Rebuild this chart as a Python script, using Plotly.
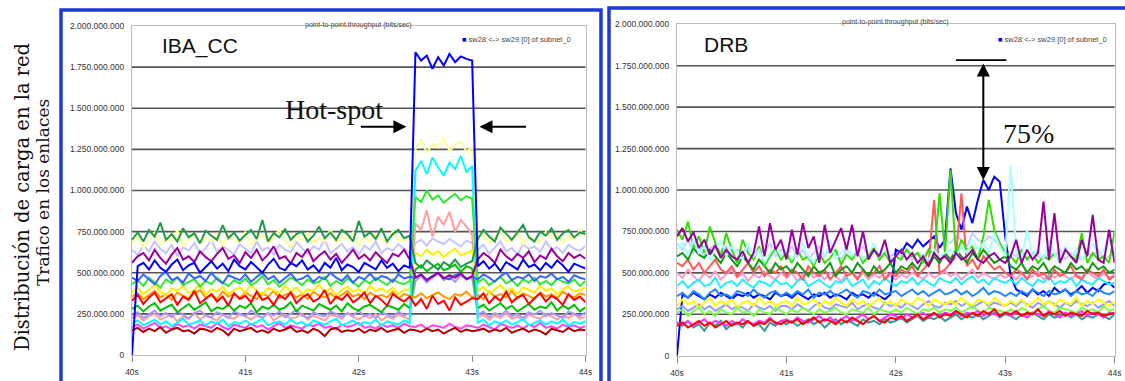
import plotly.graph_objects as go

W, H = 1125, 381

# time samples (seconds)
T = [round(40 + 0.05 * i, 2) for i in range(81)]

X_TICKS = [40, 41, 42, 43, 44]
X_TICK_TEXT = ["40s", "41s", "42s", "43s", "44s"]
Y_TICKS = [0, 250, 500, 750, 1000, 1250, 1500, 1750, 2000]
Y_TICK_TEXT = ["0", "250.000.000", "500.000.000", "750.000.000", "1.000.000.000",
               "1.250.000.000", "1.500.000.000", "1.750.000.000", "2.000.000.000"]

TITLE = "point-to-point.throughput (bits/sec)"
LEGEND_NAME = "sw28 &lt;-&gt; sw29 [0] of subnet_0"

# ---------------- IBA_CC (left) : throughput in Mbit/s ----------------
L_DKGREEN = [700,745,690,760,720,805,700,735,690,770, 715,740,680,755,725,700,790,710,745,695,
             730,760,705,820,690,740,715,765,700,735, 750,690,725,780,710,745,700,760,735,690,
             815,720,745,705,770,690,735,760,710,725,
             560,530,575,545,520,565,540,580,535,555,570,
             705,760,720,690,775,735,700,745,790,715, 690,750,725,770,700,740,760,715,745,735]
L_LTYELLOW = [680,720,650,700,745,670,710,690,760,665, 705,730,675,715,690,740,660,725,700,685,
              750,670,705,735,680,715,760,690,655,720, 700,740,675,710,690,765,680,720,700,745,
              670,715,690,730,705,680,755,700,690,720,
              1250,1310,1230,1280,1260,1320,1240,1275,1300,1235,1265,
              700,735,680,715,760,690,705,745,670,720, 700,690,750,710,735,680,725,700,760,715]
L_LAV = [640,610,665,630,690,645,620,670,600,655, 635,680,615,650,700,625,660,640,610,675,
         645,620,690,635,655,610,670,640,625,685, 650,615,660,640,700,620,645,675,630,655,
         610,665,640,690,620,650,635,675,645,620,
         680,700,665,710,690,675,705,685,660,695,680,
         640,670,615,655,690,630,650,610,675,645, 660,625,690,640,655,620,670,645,635,660]
L_PURPLE = [560,600,620,575,640,590,555,610,650,580, 600,565,630,595,570,615,650,585,605,560,
            625,590,640,575,610,660,585,600,555,620, 595,645,570,605,630,580,615,560,600,640,
            585,610,575,625,590,560,615,600,640,580,
            470,490,455,480,500,465,485,470,495,460,480,
            580,620,595,560,640,600,575,615,590,630, 565,605,585,645,600,570,620,590,610,585]
L_SW28 = [0,540,560,520,575,530,505,550,580,515, 545,560,500,535,570,525,555,510,580,540,
          520,565,535,500,550,585,530,515,560,540, 575,520,545,505,560,530,590,515,550,535,
          505,560,540,520,575,530,555,510,545,530,
          1840,1790,1820,1740,1810,1760,1830,1780,1815,1800,1790,
          540,570,525,555,510,565,540,520,580,535, 550,515,560,530,575,545,505,555,540,525]
L_ROYAL = [470,450,490,460,430,480,505,455,470,440, 495,465,480,450,500,460,435,485,470,455,
           490,445,475,500,460,480,440,470,495,455, 465,485,445,475,460,500,470,450,485,440,
           475,460,495,455,480,470,445,490,465,475,
           470,490,455,480,500,470,460,485,495,465,475,
           460,490,470,445,480,500,455,475,465,490, 450,480,470,495,460,475,445,485,470,460]
L_LIME = [430,455,420,470,440,410,460,435,475,425, 445,460,415,450,430,470,440,420,455,435,
          465,425,445,480,430,455,415,440,470,450, 425,460,435,445,475,420,450,430,465,440,
          415,455,435,470,445,425,460,440,430,450,
          960,930,1000,945,970,925,955,980,940,965,950,
          440,465,425,450,475,435,455,420,460,440, 470,430,450,425,465,445,435,460,420,450]
L_YELLOW = [380,410,370,400,425,385,360,405,390,420, 375,395,430,365,400,385,415,370,395,410,
            380,425,390,365,405,395,375,420,385,410, 370,400,390,430,380,405,365,395,415,385,
            400,375,420,390,405,380,410,370,395,400,
            620,600,640,610,630,595,625,645,605,620,635,
            390,415,375,400,425,385,405,370,410,395, 380,420,390,405,370,400,415,385,395,410]
L_ORANGE = [355,375,340,365,390,350,370,335,380,360, 345,375,395,350,365,340,385,355,370,345,
            380,360,340,375,355,390,345,365,380,350, 370,340,385,360,350,375,345,365,390,355,
            370,340,380,355,365,350,385,345,370,360,
            350,375,345,365,380,355,340,370,360,385,350,
            365,340,385,355,370,350,390,345,375,360, 340,380,355,370,345,385,360,350,375,365]
L_RED = [330,365,310,350,380,320,345,370,305,355, 335,390,315,345,370,325,355,300,375,340,
         360,320,385,335,350,305,365,340,380,315, 350,370,325,345,395,310,355,335,370,320,
         345,380,315,360,335,300,370,345,325,355,
         300,340,280,360,310,330,270,350,305,325,345,
         340,375,315,355,330,385,320,350,365,310, 345,375,325,360,340,305,370,335,355,320]
L_GREEN = [280,300,265,295,315,270,290,305,260,285, 310,275,295,320,265,290,280,305,270,300,
           285,315,260,295,280,305,275,290,320,265, 300,285,270,310,290,275,300,265,315,285,
           270,295,305,280,260,300,290,275,310,285,
           520,545,510,535,555,515,530,550,505,540,525,
           285,305,270,295,315,280,300,265,290,310, 275,295,285,320,270,300,280,305,265,290]
L_LTPURPLE = [240,260,225,250,270,235,255,230,265,245, 220,255,270,240,230,260,245,225,265,250,
              235,270,245,225,255,240,265,230,250,275, 240,225,260,245,235,265,250,230,255,240,
              270,235,250,225,260,245,230,265,240,255,
              450,480,440,470,495,455,475,445,485,460,470,
              245,265,230,255,240,270,235,250,225,260, 245,270,235,255,240,225,265,250,235,260]
L_SALMON = [225,240,210,235,250,215,230,245,205,235, 220,255,215,240,225,210,245,230,220,250,
            235,215,240,225,255,210,235,245,220,230, 250,215,240,225,210,245,235,220,255,230,
            215,240,225,250,210,235,220,245,230,215,
            800,760,880,720,840,790,870,750,820,780,730,
            230,245,215,240,225,255,220,235,210,245, 230,220,250,235,215,240,225,250,220,235]
L_CYAN = [190,210,180,200,215,185,205,175,200,220, 185,195,210,180,205,190,215,175,200,190,
          210,185,200,220,180,195,205,185,215,190, 200,175,210,195,185,205,220,180,195,210,
          185,200,190,215,180,205,195,185,210,195,
          1120,1180,1100,1200,1140,1090,1170,1130,1210,1110,1150,
          195,215,180,205,190,210,185,200,220,180, 195,210,185,205,190,215,180,200,190,205]
L_MAGENTA = [170,185,160,180,195,165,175,155,190,170, 180,160,185,175,165,195,170,155,185,175,
             165,190,170,180,155,175,195,165,180,170, 160,185,175,190,165,175,155,185,170,180,
             195,165,175,160,185,170,180,165,190,175,
             170,185,160,180,175,165,190,170,160,180,175,
             165,185,170,155,190,175,165,180,160,185, 170,195,165,175,160,185,170,180,165,175]
L_DKRED = [150,165,140,160,145,170,135,155,165,145, 150,130,160,155,140,165,150,120,160,145,
           155,165,140,150,135,160,145,155,170,140, 150,135,160,145,115,155,165,140,150,145,
           160,135,155,145,165,140,150,160,135,155,
           150,140,160,145,155,130,150,165,140,155,145,
           150,160,140,155,145,165,135,150,160,140, 155,145,125,160,150,140,165,145,155,150]

# ---------------- DRB (right) ----------------
R_PURPLE = [720,770,690,745,650,700,610,665,590,640, 600,580,630,560,620,780,600,800,640,700,
            580,760,610,800,650,720,560,790,620,700, 770,640,790,600,750,580,640,600,700,560,
            600,640,580,620,560,600,540,620,580,600,
            560,620,580,600,640,580,560,600,620,580,560,
            600,700,560,640,580,620,930,580,860,560, 640,600,560,700,600,850,580,560,760,560]
R_GREEN = [760,700,810,650,720,620,780,680,600,740, 640,560,700,620,580,660,540,600,650,580,
           620,560,640,580,600,540,620,560,590,640, 550,610,580,640,560,600,650,580,620,560,
           600,580,640,600,620,560,640,600,980,620,
           1120,600,700,640,660,580,720,940,760,680,620,
           600,560,640,580,620,560,600,580,620,560, 650,600,580,740,560,620,580,600,560,750]
R_DKGREEN = [600,620,580,650,610,590,640,600,560,620, 580,540,600,560,520,580,540,500,560,520,
             540,500,560,520,480,540,500,520,560,480, 520,540,500,560,520,480,540,500,520,560,
             500,540,520,560,520,580,540,600,560,620,
             580,640,600,560,620,580,640,600,560,580,600,
             540,520,560,500,540,520,560,500,540,520, 500,560,520,540,500,560,520,540,500,520]
R_SALMON = [560,540,580,520,560,500,540,580,520,500, 540,480,520,560,500,540,480,520,500,540,
            480,520,500,460,540,500,480,520,460,500, 540,480,500,460,520,480,500,540,460,500,
            480,520,500,540,480,520,560,940,500,520,
            560,600,980,540,580,520,600,560,520,540,500,
            480,520,500,460,520,480,500,460,520,480, 500,540,480,460,520,500,480,520,460,480]
R_LTCYAN = [640,680,600,700,620,660,580,640,700,600, 660,620,580,680,600,640,560,620,660,600,
            640,580,620,680,600,560,640,600,700,580, 620,660,600,640,580,620,680,600,640,580,
            600,640,580,620,560,600,580,640,600,620,
            640,600,660,620,700,640,680,620,740,660,600,
            1150,620,580,760,600,640,580,700,620,560, 660,600,640,580,620,680,600,640,700,620]
R_LAV = [680,640,700,620,660,600,640,680,620,660, 600,640,620,660,600,640,620,680,600,640,
         620,660,600,640,580,620,660,600,640,620, 580,640,600,620,660,600,640,580,620,600,
         620,600,640,580,620,600,640,620,660,700,
         680,720,700,660,740,700,680,720,700,660,640,
         620,600,640,580,620,600,580,620,600,640, 580,620,600,580,620,600,640,580,600,620]
R_PINK = [500,470,520,480,450,500,470,510,460,490, 520,470,500,450,490,470,510,480,460,500,
          470,500,450,490,520,470,490,460,500,480, 450,490,510,470,500,460,490,470,510,480,
          460,490,470,500,480,460,500,470,490,510,
          480,500,460,490,520,470,500,480,460,490,470,
          490,460,500,470,480,510,460,490,470,500, 480,460,490,470,510,480,460,500,470,490]
R_CYAN = [420,450,410,440,460,420,430,470,410,440, 450,420,460,430,410,450,440,420,460,430,
          440,410,450,470,420,440,460,430,410,450, 440,470,420,440,460,410,450,430,470,440,
          420,450,440,470,430,460,440,420,470,450,
          440,470,430,460,480,440,460,430,470,450,440,
          460,430,470,440,420,460,440,480,430,450, 440,470,420,460,440,430,470,450,430,440]
R_DODGER = [360,380,350,390,370,340,380,400,360,370, 350,390,380,360,400,370,350,380,390,360,
            380,360,390,370,400,350,380,370,390,360, 380,400,370,350,390,380,360,400,370,380,
            390,360,380,400,370,390,360,380,400,370,
            380,400,370,390,360,380,410,370,390,380,360,
            380,360,390,370,400,380,360,390,370,380, 400,360,390,370,380,360,400,380,370,390]
R_YELLOW = [300,340,310,330,290,320,350,300,330,310, 340,290,320,330,300,350,310,330,300,320,
            330,300,350,310,320,340,300,330,310,350, 320,300,340,310,330,300,320,350,310,330,
            300,340,320,310,350,330,300,340,320,310,
            330,310,350,320,300,340,330,310,350,320,300,
            330,310,340,300,320,350,310,330,300,340, 320,310,350,300,330,310,340,320,300,330]
R_LIME = [260,280,240,270,290,250,270,240,280,260, 250,290,260,270,240,280,260,250,290,270,
          250,280,260,290,270,250,280,260,270,290, 260,250,280,270,260,290,250,280,270,260,
          280,260,290,270,250,280,270,290,260,280,
          270,290,260,280,300,270,260,290,280,270,260,
          280,260,290,270,250,280,300,270,260,290, 280,270,260,290,270,280,260,300,270,280]
R_LTPURPLE = [280,300,270,290,310,280,300,270,290,310, 280,300,290,270,310,290,280,300,270,300,
              300,280,310,290,270,300,320,290,280,310, 300,290,320,280,300,310,290,280,320,300,
              310,290,320,300,280,310,330,300,290,320,
              310,330,300,320,290,310,330,300,320,310,300,
              320,300,330,310,290,320,300,330,310,290, 320,300,330,310,300,320,290,310,330,300]
R_TEAL = [200,180,210,170,190,150,200,180,210,160, 190,200,170,210,180,190,150,200,180,210,
          190,210,180,200,220,190,210,170,200,220, 190,210,200,180,220,200,210,190,220,200,
          210,230,200,220,240,210,230,220,240,210,
          230,250,220,240,230,250,220,240,260,230,250,
          240,220,250,230,260,240,220,250,230,240, 260,230,250,220,240,230,250,240,220,250]
R_RED = [180,200,170,190,210,180,200,170,190,210, 180,200,190,210,180,200,190,220,200,190,
         210,200,220,190,210,230,200,220,210,190, 220,200,230,210,190,220,240,210,200,230,
         220,240,210,230,250,220,240,260,230,250,
         240,270,250,230,260,240,270,250,280,240,260,
         250,270,240,260,250,280,240,260,250,270, 240,260,250,240,270,250,260,240,250,260]
R_MAGENTA = [200,190,210,180,200,220,190,210,200,180, 210,190,220,200,190,210,200,230,190,210,
             220,200,230,210,200,220,240,210,230,200, 220,240,210,230,250,220,240,210,230,250,
             240,220,250,230,240,260,230,250,240,260,
             250,270,240,260,250,270,240,260,250,240,260,
             240,260,250,230,260,250,240,270,250,230, 260,240,250,270,240,260,250,230,260,250]
R_SW28 = [0,370,350,380,360,340,370,350,380,360, 340,370,360,380,350,370,360,340,380,360,
          370,350,380,360,340,370,360,380,350,370, 360,340,380,360,370,350,380,360,340,370,
          640,620,680,650,700,660,690,720,650,700,
          1130,860,760,900,800,940,1060,1000,1080,1050,720,
          480,400,380,360,400,370,390,360,410,380, 400,370,390,420,380,410,390,430,440,410]

LEFT_SERIES = [
    ("lavender", L_LAV, "#c4c4ff"),
    ("light yellow", L_LTYELLOW, "#ffff99"),
    ("salmon", L_SALMON, "#ff9e9e"),
    ("light purple", L_LTPURPLE, "#a898ff"),
    ("magenta", L_MAGENTA, "#ff44ff"),
    ("dark red", L_DKRED, "#b00000"),
    ("orange", L_ORANGE, "#ff9900"),
    ("yellow", L_YELLOW, "#ffee00"),
    ("green", L_GREEN, "#00c000"),
    ("cyan", L_CYAN, "#00ffff"),
    ("lime", L_LIME, "#33e633"),
    ("royal", L_ROYAL, "#3366ff"),
    ("purple", L_PURPLE, "#990099"),
    ("red", L_RED, "#ff0000"),
    ("dark green", L_DKGREEN, "#1f9a4a"),
    ("sw28", L_SW28, "#0000ff"),
]
RIGHT_SERIES = [
    ("teal", R_TEAL, "#339999"),
    ("lavender", R_LAV, "#ccccff"),
    ("pink", R_PINK, "#ff99cc"),
    ("sw28", R_SW28, "#0000ff"),
    ("light purple", R_LTPURPLE, "#9999ff"),
    ("yellow", R_YELLOW, "#ffff00"),
    ("lime", R_LIME, "#77ff44"),
    ("dodger", R_DODGER, "#2288ff"),
    ("cyan", R_CYAN, "#22eeff"),
    ("magenta", R_MAGENTA, "#ff33ff"),
    ("red", R_RED, "#ff0000"),
    ("salmon", R_SALMON, "#ff5a5a"),
    ("dark green", R_DKGREEN, "#119911"),
    ("green", R_GREEN, "#33dd00"),
    ("light cyan", R_LTCYAN, "#aaffff"),
    ("purple", R_PURPLE, "#990099"),
]
for _n, _v, _c in LEFT_SERIES + RIGHT_SERIES:
    assert len(_v) == len(T), (_n, len(_v))

fig = go.Figure()
for name, vals, col in LEFT_SERIES:
    fig.add_trace(go.Scatter(x=T, y=vals, mode="lines", name=name,
                             line=dict(color=col, width=2),
                             xaxis="x", yaxis="y", showlegend=False, hoverinfo="skip"))
for name, vals, col in RIGHT_SERIES:
    fig.add_trace(go.Scatter(x=T, y=vals, mode="lines", name=name,
                             line=dict(color=col, width=2),
                             xaxis="x2", yaxis="y2", showlegend=False, hoverinfo="skip"))

TICKFONT = dict(family="Liberation Sans, Arial, sans-serif", size=8.5, color="#333333")


def xaxis(domain, anchor):
    return dict(domain=domain, anchor=anchor, range=[40, 44], tickvals=X_TICKS,
                ticktext=X_TICK_TEXT, ticks="outside", ticklen=6, tickcolor="#8a8a8a",
                tickwidth=1, tickfont=TICKFONT, ticklabelstandoff=3, automargin=False,
                showline=True, linecolor="#bcbcbc", linewidth=1, mirror=True,
                showgrid=False, zeroline=False, fixedrange=True)


def yaxis(domain, anchor):
    return dict(domain=domain, anchor=anchor, range=[0, 2000], tickvals=Y_TICKS,
                ticktext=Y_TICK_TEXT, ticks="", tickfont=TICKFONT, ticklabelstandoff=5,
                automargin=False,
                showline=True, linecolor="#bcbcbc", linewidth=1, mirror=True,
                showgrid=False, zeroline=False, fixedrange=True)


shapes = []
for xr, yr in (("x", "y"), ("x2", "y2")):
    for v in Y_TICKS[1:-1]:
        shapes.append(dict(type="line", xref=xr + " domain", yref=yr, x0=0, x1=1, y0=v, y1=v,
                           line=dict(color="#555555", width=1.6), layer="below"))

# blue frames around each panel
shapes.append(dict(type="rect", xref="paper", yref="paper", x0=61 / W, x1=601 / W,
                   y0=-0.05, y1=1 - 10 / H, line=dict(color="#1d3ad2", width=3.5)))
shapes.append(dict(type="rect", xref="paper", yref="paper", x0=609 / W, x1=1.05,
                   y0=-0.05, y1=1 - 8 / H, line=dict(color="#1d3ad2", width=3.5)))
# 75% reference bar
shapes.append(dict(type="line", xref="x2", yref="y2", x0=42.55, x1=43.01, y0=1784, y1=1784,
                   line=dict(color="#000000", width=1.6)))

SERIF = "Liberation Serif, Times New Roman, serif"
SANS = "Liberation Sans, Arial, sans-serif"

annotations = [
    dict(xref="x domain", yref="paper", x=0.5, y=1 - 19 / H, text=TITLE, showarrow=False,
         font=dict(family=SANS, size=7, color="#444444")),
    dict(xref="x2 domain", yref="paper", x=0.5, y=1 - 16 / H, text=TITLE, showarrow=False,
         font=dict(family=SANS, size=7, color="#444444")),
    dict(xref="x", yref="y", x=43.89, y=1915, xanchor="right", showarrow=False,
         text="<span style='color:#0000ff'>■</span> " + LEGEND_NAME,
         font=dict(family=SANS, size=7.5, color="#444444")),
    dict(xref="x2", yref="y2", x=43.95, y=1911, xanchor="right", showarrow=False,
         text="<span style='color:#0000ff'>■</span> " + LEGEND_NAME,
         font=dict(family=SANS, size=7.5, color="#444444")),
    dict(xref="x", yref="y", x=40.60, y=1880, text="IBA_CC", showarrow=False,
         font=dict(family=SANS, size=21, color="#111111")),
    dict(xref="x2", yref="y2", x=40.45, y=1881, text="DRB", showarrow=False,
         font=dict(family=SANS, size=21, color="#111111")),
    dict(xref="x", yref="y", x=41.78, y=1490, text="Hot-spot", showarrow=False,
         font=dict(family=SERIF, size=28, color="#111111")),
    dict(xref="x2", yref="y2", x=43.21, y=1344, text="75%", showarrow=False,
         font=dict(family=SERIF, size=28, color="#111111")),
    # hot-spot arrows
    dict(xref="x", yref="y", x=42.42, y=1388, ax=-47, ay=0, text="", showarrow=True,
         arrowhead=2, arrowsize=1.3, arrowwidth=2, arrowcolor="#000000"),
    dict(xref="x", yref="y", x=43.065, y=1388, ax=48, ay=0, text="", showarrow=True,
         arrowhead=2, arrowsize=1.3, arrowwidth=2, arrowcolor="#000000"),
    # 75% double arrow
    dict(xref="x2", yref="y2", x=42.80, y=1060, axref="x2", ayref="y2", ax=42.80, ay=1772,
         text="", showarrow=True, arrowhead=2, startarrowhead=2, arrowside="end+start",
         arrowsize=1.3, startarrowsize=1.3, arrowwidth=2, arrowcolor="#000000"),
    # rotated y-axis description
    dict(xref="paper", yref="paper", x=22 / W, y=1 - 197 / H, xanchor="center",
         yanchor="middle", textangle=-90, showarrow=False,
         text="Distribución de carga en la red",
         font=dict(family="DejaVu Serif, serif", size=19.5, color="#111111")),
    dict(xref="paper", yref="paper", x=43 / W, y=1 - 193 / H, xanchor="center",
         yanchor="middle", textangle=-90, showarrow=False,
         text="Trafico en los enlaces",
         font=dict(family="DejaVu Serif, serif", size=17, color="#111111")),
]

fig.update_layout(
    width=W, height=H, margin=dict(l=0, r=0, t=0, b=0, pad=0, autoexpand=False),
    paper_bgcolor="#ffffff", plot_bgcolor="#ffffff",
    xaxis=xaxis([132 / W, 585.5 / W], "y"),
    yaxis=yaxis([1 - 355 / H, 1 - 26 / H], "x"),
    xaxis2=xaxis([677 / W, 1114.6 / W], "y2"),
    yaxis2=yaxis([1 - 355.7 / H, 1 - 24.3 / H], "x2"),
    shapes=shapes, annotations=annotations, showlegend=False,
)

fig.write_html("out.html", config={"displayModeBar": False},
               post_script="document.body.style.margin='0px';"
                           "document.body.style.overflow='hidden';")
